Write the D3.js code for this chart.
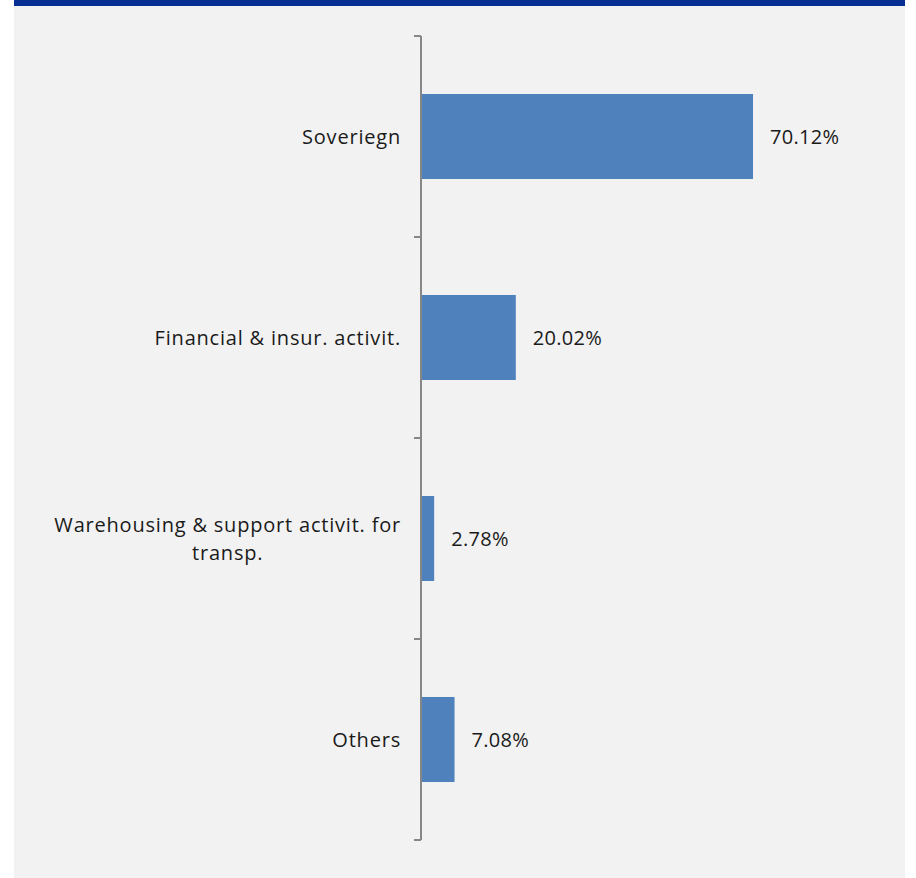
<!DOCTYPE html>
<html>
<head>
<meta charset="utf-8">
<script src="https://cdn.jsdelivr.net/npm/d3@7"></script>
<style>
  html, body { margin: 0; padding: 0; background: #ffffff; }
  svg { display: block; }
  text { font-family: "Open Sans", Lato, sans-serif; fill: #1a1a1a; }
</style>
</head>
<body>
<svg id="chart" width="916" height="878"></svg>
<script>
// Exposure by sector (% of total)
const categories = [
  "Soveriegn",
  "Financial & insur. activit.",
  "Warehousing & support activit. for\ntransp.",
  "Others"
];
const shares = [70.12, 20.02, 2.78, 7.08];
const valueLabels = ["70.12%", "20.02%", "2.78%", "7.08%"];

const W = 916, H = 878;
const svg = d3.select("#chart");

// panel background and header strip
svg.append("rect").attr("x", 14).attr("y", 0).attr("width", 891).attr("height", H).attr("fill", "#f2f2f2");
svg.append("rect").attr("x", 14).attr("y", 0).attr("width", 891).attr("height", 6).attr("fill", "#052f92");

const axisX = 421;
const plotTop = 36, plotBottom = 840;

// category slots (ticks sit on the slot boundaries)
const slots = d3.scaleBand().domain(categories).range([plotTop, plotBottom]).padding(0);
// bars inside each slot
const y = d3.scaleBand().domain(categories).range([plotTop, plotBottom])
  .paddingInner(0.577).paddingOuter(0.2885);
const x = d3.scaleLinear().domain([0, 100]).range([axisX, axisX + 473.5]);

const data = categories.map((c, i) => ({ cat: c, v: shares[i], lbl: valueLabels[i] }));

// bars
svg.append("g").selectAll("rect").data(data).join("rect")
  .attr("x", x(0))
  .attr("y", d => y(d.cat))
  .attr("width", d => x(d.v) - x(0))
  .attr("height", y.bandwidth())
  .attr("fill", "#4f81bd");

// vertical category axis
const axisG = svg.append("g").attr("stroke", "#878787").attr("stroke-width", 2).attr("fill", "none");
axisG.append("line").attr("x1", axisX).attr("x2", axisX).attr("y1", plotTop).attr("y2", plotBottom);
const tickYs = categories.map(c => slots(c)).concat([plotBottom]);
axisG.selectAll("line.tick").data(tickYs).join("line")
  .attr("class", "tick")
  .attr("x1", axisX - 7).attr("x2", axisX)
  .attr("y1", d => d).attr("y2", d => d);

// category labels (multi-line labels centred on their longest line, right edge at the axis gap)
const fs = 20, lh = 28;
const labelG = svg.append("g").attr("font-size", fs).attr("letter-spacing", 0.8);
data.forEach(d => {
  const lines = d.cat.split("\n");
  const cy = y(d.cat) + y.bandwidth() / 2;
  const t = labelG.append("text").attr("y", cy);
  const spans = lines.map((ln, i) => t.append("tspan").text(ln));
  const widths = spans.map(s => s.node().getComputedTextLength());
  const maxW = d3.max(widths);
  const rightEdge = axisX - 20;
  const centre = rightEdge - maxW / 2;
  const y0 = cy - (lines.length - 1) * lh / 2;
  spans.forEach((s, i) => {
    s.attr("x", centre).attr("text-anchor", "middle")
     .attr("y", y0 + i * lh).attr("dy", "0.36em");
  });
});

// value labels
svg.append("g").attr("font-size", fs).attr("letter-spacing", 0.3)
  .selectAll("text").data(data).join("text")
  .attr("x", d => x(d.v) + 17)
  .attr("y", d => y(d.cat) + y.bandwidth() / 2)
  .attr("dy", "0.36em")
  .text(d => d.lbl);
</script>
</body>
</html>
